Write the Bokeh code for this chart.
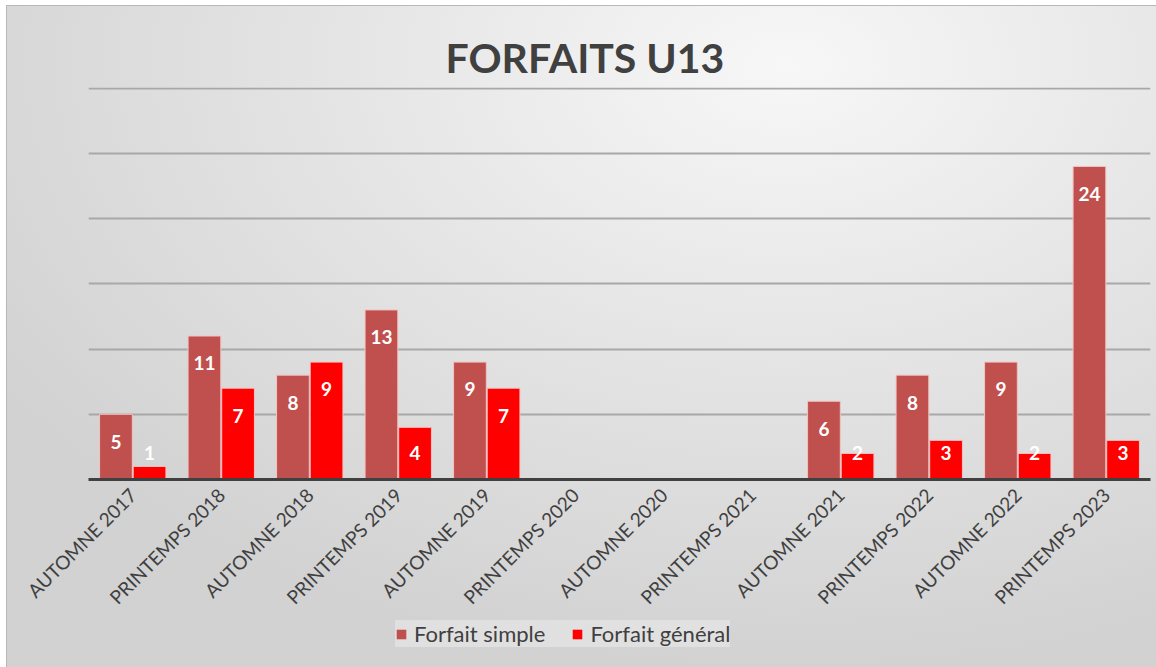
import math
from bokeh.plotting import figure
from bokeh.layouts import column
from bokeh.models import ColumnDataSource, FactorRange, Range1d, Legend, LegendItem, SingleIntervalTicker
from bokeh.transform import dodge
from bokeh.core.properties import value
from bokeh.embed import file_html
from bokeh.resources import INLINE

categories = ["AUTOMNE 2017", "PRINTEMPS 2018", "AUTOMNE 2018", "PRINTEMPS 2019",
              "AUTOMNE 2019", "PRINTEMPS 2020", "AUTOMNE 2020", "PRINTEMPS 2021",
              "AUTOMNE 2021", "PRINTEMPS 2022", "AUTOMNE 2022", "PRINTEMPS 2023"]
forfait_simple = [5, 11, 8, 13, 9, 0, 0, 0, 6, 8, 9, 24]
forfait_general = [1, 7, 9, 4, 7, 0, 0, 0, 2, 3, 2, 3]
series_names = ["Forfait simple", "Forfait général"]
series_colors = ["#C0504D", "#FF0000"]

FONT = "Lato"
TXT = "#404040"
BAR_LINE = "#F2C4C4"

src = ColumnDataSource(dict(cat=categories, simple=forfait_simple, general=forfait_general))

def label_source(vals):
    cats = [c for c, v in zip(categories, vals) if v > 0]
    vs = [v for v in vals if v > 0]
    ys = [max(v - 2.1, 2.0) for v in vs]
    return ColumnDataSource(dict(cat=cats, y=ys, txt=[str(v) for v in vs]))

p = figure(frame_width=1062, frame_height=392, x_range=FactorRange(*categories, range_padding=0),
           y_range=Range1d(0, 30.05), output_backend="svg", toolbar_location=None,
           min_border_left=88, min_border_right=6, min_border_top=87, min_border_bottom=0)

p.border_fill_color = None
p.background_fill_color = None
p.outline_line_color = None

offs = [-0.19, 0.19]
keys = ["simple", "general"]
rends = []
for k, off, col in zip(keys, offs, series_colors):
    r = p.vbar(x=dodge("cat", off, range=p.x_range), top=k, width=0.37, source=src,
               fill_color=col, line_color=BAR_LINE, line_width=1)
    rends.append(r)

for vals, off in zip([forfait_simple, forfait_general], offs):
    ls = label_source(vals)
    p.text(x=dodge("cat", off, range=p.x_range), y="y", text="txt", source=ls,
           text_color="white", text_font=value(FONT), text_font_style="bold",
           text_font_size="19px", text_align="center", text_baseline="middle")

p.title.text = "FORFAITS U13"
p.title.align = "left"
p.title.offset = 357
p.title.text_font = FONT
p.title.text_font_size = "41px"
p.title.text_font_style = "bold"
p.title.text_color = TXT
p.title.standoff = 12

p.yaxis.visible = False
p.ygrid.ticker = SingleIntervalTicker(interval=5)
p.ygrid.grid_line_color = "#a8a8a8"
p.ygrid.grid_line_width = 2
p.xgrid.grid_line_color = None

ax = p.xaxis[0]
ax.axis_line_color = TXT
ax.axis_line_width = 3
ax.major_tick_line_color = None
ax.minor_tick_line_color = None
ax.major_label_orientation = math.pi / 4
ax.major_label_text_font = FONT
ax.major_label_text_font_size = "19px"
ax.major_label_text_color = TXT
ax.major_label_standoff = 6

# legend strip below the chart
lf = figure(width=1156, height=48, x_range=Range1d(0, 1), y_range=Range1d(0, 1),
            x_axis_type=None, y_axis_type=None,
            output_backend="svg", toolbar_location=None,
            min_border_left=0, min_border_right=0, min_border_top=0, min_border_bottom=0)
lf.title.visible = False
lf.border_fill_color = None
lf.background_fill_color = None
lf.outline_line_color = None
lf.grid.visible = False
hidden = ColumnDataSource(dict(x=[0.5], top=[0]))
lrends = [lf.vbar(x="x", top="top", width=0.0, source=hidden, fill_color=c, line_color=None)
          for c in series_colors]
legend = Legend(items=[LegendItem(label=n, renderers=[r]) for n, r in zip(series_names, lrends)],
                orientation="horizontal", location=(307, 20),
                label_text_font=FONT, label_text_font_size="22px", label_text_color=TXT,
                glyph_width=12, glyph_height=12, spacing=26, padding=10, margin=0,
                background_fill_color="#eaeaea", background_fill_alpha=0.6,
                border_line_color=None, label_standoff=7)
lf.add_layout(legend, "center")

layout = column(p, lf, spacing=0,
                styles={"background": "radial-gradient(ellipse 80% 90% at 68% 10%, #f7f7f7 0%, #e6e6e6 45%, #d2d2d2 100%)",
                        "box-shadow": "inset 6px 5px 0 #ffffff, inset 7px 6px 0 #b8b8b8"})

open("out.html", "w").write(file_html(layout, INLINE))
